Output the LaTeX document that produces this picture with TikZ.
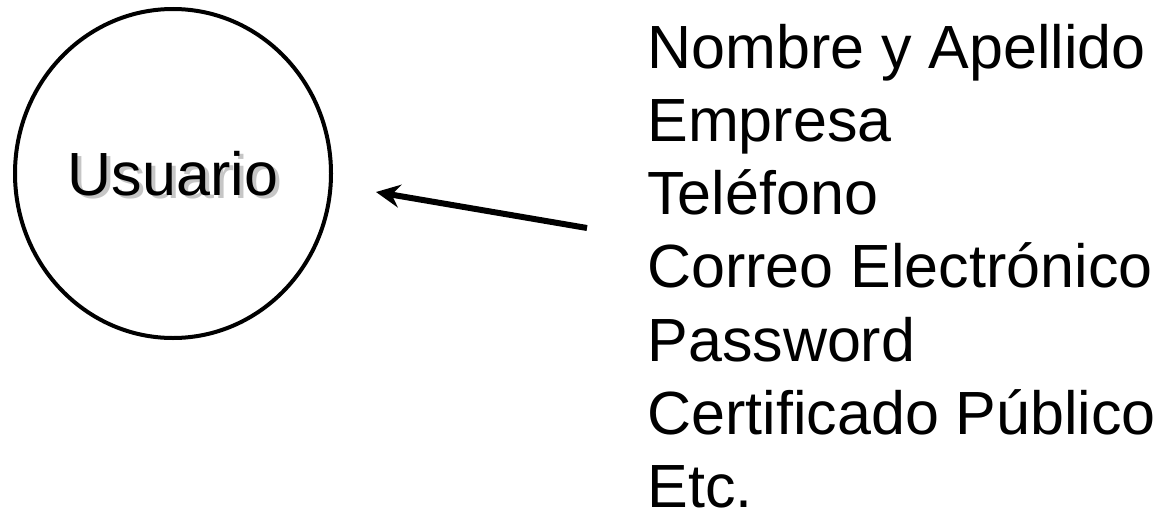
\documentclass[tikz,border=0pt]{standalone}
\usepackage{fontspec}
\setmainfont{Liberation Sans}
\usetikzlibrary{arrows.meta, shapes.geometric}
\tikzset{
    entity/.style={ellipse, draw, line width=2pt, minimum width=158pt, minimum height=164.5pt, inner sep=0pt},
    bigtext/.style={font=\fontsize{30.5}{36}\selectfont, inner sep=0pt},
    attr/.style={bigtext, anchor=base west},
}
\begin{document}
\begin{tikzpicture}[x=0.5pt, y=-0.5pt]
    \useasboundingbox (0,0) rectangle (1160,514);
    % entity with shadowed label
    \node[bigtext, gray!45] (shadow) at (177,177) {Usuario};
    \node[entity, bigtext] (usuario) at (173,173.5) {Usuario};
    % attribute list
    \foreach \name [count=\i from 0, evaluate={\yb=68+73.33*\i}] in {Nombre y Apellido, Empresa, Teléfono, Correo Electrónico, Password, Certificado Público, Etc.} {
        \node[attr] (attr\i) at (647, \yb) {\name};
    };
    % arrow towards the entity
    \coordinate (tail) at (587,228);
    \coordinate (tip) at (376,192);
    \draw[-{Stealth[length=12pt, width=11.5pt, inset=4pt]}, line width=3pt] (tail) -- (tip);
\end{tikzpicture}
\end{document}
